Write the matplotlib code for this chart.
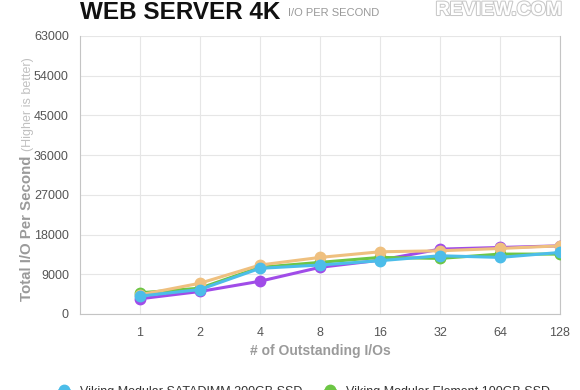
import matplotlib.pyplot as plt
import matplotlib.patheffects as pe

# Web Server 4K, I/O per second by outstanding I/Os
queue_depths = ["1", "2", "4", "8", "16", "32", "64", "128"]
satadimm_200 = [4050, 5550, 10350, 11100, 12075, 13200, 12825, 13950]
element_100 = [4800, 5850, 10575, 11700, 12825, 12600, 13575, 13575]
purple_series = [3450, 5100, 7425, 10575, 12200, 14700, 15075, 15450]
orange_series = [4350, 6975, 11100, 12825, 14100, 14325, 14850, 15450]

labels = [
    "Viking Modular SATADIMM 200GB SSD",
    "Viking Modular Element 100GB SSD",
    "Intel SSD DC S3700 200GB",
    "Micron P400m 200GB",
]
colors = ["#4cbde9", "#6cc644", "#a04ce8", "#efc07f"]
yticks = [0, 9000, 18000, 27000, 36000, 45000, 54000, 63000]

plt.rcParams["font.family"] = ["Liberation Sans", "DejaVu Sans"]

fig = plt.figure(figsize=(5.8, 3.9), dpi=100)
ax = fig.add_axes([80 / 580, 1 - 314 / 390, 480 / 580, 278 / 390])

xs = range(1, len(queue_depths) + 1)
series = [satadimm_200, element_100, purple_series, orange_series]
zorders = [6, 4, 3, 5]
handles = []
for vals, c, lab, z in zip(series, colors, labels, zorders):
    h, = ax.plot(xs, vals, color=c, lw=2.2, marker="o", ms=7.5,
                 label=lab, zorder=z, solid_capstyle="round")
    handles.append(h)

ax.set_xlim(0, 8)
ax.set_ylim(0, 63000)
ax.set_xticks(list(xs))
ax.set_xticklabels(queue_depths)
ax.set_yticks(yticks)
ax.set_yticklabels([str(v) for v in yticks])
ax.grid(True, color="#e6e6e6", lw=0.8)
ax.set_axisbelow(True)
ax.tick_params(length=0, labelsize=9, labelcolor="#555555", pad=8)
ax.tick_params(axis="x", pad=9)
for side in ("left", "bottom", "right"):
    ax.spines[side].set_color("#c4c4c4")
ax.spines["top"].set_visible(False)

fig.text(80 / 580, 1 - 19 / 390, "WEB SERVER 4K", fontsize=17.5, fontweight="bold",
         color="#111111", va="baseline", ha="left")
fig.text(288 / 580, 1 - 16 / 390, "I/O PER SECOND", fontsize=8,
         color="#999999", va="baseline", ha="left")
fig.text(562 / 580, 1 - 15 / 390, "REVIEW.COM", fontsize=14, fontweight="bold",
         color="white", va="baseline", ha="right",
         path_effects=[pe.withStroke(linewidth=1.5, foreground="#c8c8c8")])

fig.text(27 / 580, 1 - 301 / 390, "Total I/O Per Second", rotation=90,
         fontsize=10.8, fontweight="bold", color="#9a9a9a", ha="center", va="bottom")
fig.text(28 / 580, 1 - 151 / 390, "(Higher is better)", rotation=90,
         fontsize=9, color="#c0c0c0", ha="center", va="bottom")
fig.text(320 / 580, 1 - 351 / 390, "# of Outstanding I/Os", fontsize=10,
         fontweight="bold", color="#9a9a9a", ha="center", va="center")

# ncol=2 fills column-wise, so order the handles for a row of blue, green
order = [0, 2, 1, 3]
fig.legend(handles=[handles[i] for i in order], loc="upper center",
           bbox_to_anchor=(0.525, 0.04), ncol=2, frameon=False, fontsize=9,
           handlelength=0.8, handletextpad=0.9, columnspacing=1.8,
           labelcolor="#333333")

fig.savefig("out.png", dpi=100)
